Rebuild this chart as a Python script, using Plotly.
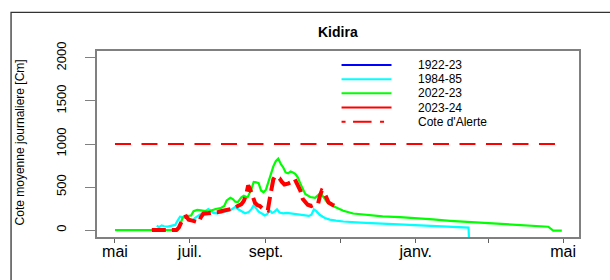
import pandas as pd
import plotly.graph_objects as go

# ---------------- data (day 0 = 1 May of the hydrological year) ----------------
BASE = pd.Timestamp("2022-05-01")

cyan_day = [34, 36, 38, 40, 43, 46, 49, 51, 53, 55, 57, 59, 61, 63, 65, 68, 71, 74, 76, 78,
            80, 83, 86, 89, 92, 95, 98, 100, 103, 106, 109, 111, 113, 115, 117, 120, 122, 124,
            126, 128, 130, 132, 134, 137, 140, 143, 147, 151, 155, 158, 160, 162, 164, 167,
            171, 175, 180, 186, 200, 220, 240, 260, 275, 288, 289]
cyan_val = [50, 35, 55, 45, 40, 50, 60, 110, 155, 150, 160, 140, 120, 110, 140, 170, 200, 230, 245, 225,
            200, 195, 200, 215, 220, 240, 270, 245, 215, 195, 210, 240, 290, 250, 215, 190, 170, 185,
            230, 200, 215, 240, 205, 195, 200, 195, 185, 175, 170, 165, 180, 240, 220, 175,
            140, 122, 110, 100, 88, 75, 62, 50, 38, 30, -300]

green_day = [0, 51, 53, 55, 57, 60, 62, 64, 67, 70, 73, 76, 79, 82, 86, 89, 91, 94, 96, 98,
             100, 103, 105, 108, 111, 113, 115, 117, 119, 121, 123, 125, 127, 129, 131, 133,
             135, 137, 139, 141, 143, 145, 147, 149, 151, 153, 155, 159, 163, 165, 167.5, 170,
             172.5, 178, 186, 194, 205, 218, 232, 246, 259, 273, 300, 327, 353, 357, 364]
green_val = [0, 0, 60, 140, 160, 165, 170, 220, 235, 230, 225, 215, 230, 245, 255, 280, 345, 375, 360, 330,
             325, 380, 400, 380, 470, 560, 555, 545, 460, 440, 470, 560, 650, 740, 800, 830,
             770, 730, 670, 660, 680, 670, 650, 610, 540, 480, 420, 385, 375, 400, 430, 380,
             330, 278, 224, 193, 174, 160, 150, 140, 124, 108, 85, 66, 39, -5, -5]

red_day = [30, 50, 52, 54, 56, 58, 60, 63, 66, 68, 70, 72, 76, 80, 84, 88, 92, 96, 100, 103,
           105, 107, 108.5, 110, 112, 114, 116, 118, 120, 122, 124.5, 126, 127.5, 129, 130.5,
           132, 134, 136, 138, 141, 144, 146.5, 149, 151, 153, 155, 157, 160, 163, 165.5,
           167, 168.5, 170, 172, 174, 177, 180, 183]
red_val = [0, 0, 30, 90, 150, 160, 120, 110, 100, 90, 150, 190, 195, 200, 210, 225, 235, 250, 280, 300,
           340, 420, 520, 480, 400, 320, 290, 280, 255, 245, 230, 360, 500, 590, 625,
           610, 600, 560, 530, 540, 560, 590, 530, 460, 360, 320, 295, 280, 290, 310,
           400, 460, 450, 380, 320, 295, 275, 255]

alert_day = [0, 365]
alert_val = [1000, 1000]

tick_dates = ["2022-05-01", "2022-07-01", "2022-09-01", "2022-11-01",
              "2023-01-01", "2023-03-01", "2023-05-01"]
tick_labels = ["mai", "juil.", "sept.", "", "janv.", "", "mai"]
y_ticks = [0, 500, 1000, 1500, 2000]

legend_names = ["1922-23", "1984-85", "2022-23", "2023-24", "Cote d'Alerte"]
legend_colors = ["#0000FF", "#00FFFF", "#00FF00", "#FF0000", "#FF0000"]

title_text = "Kidira"
y_title = "Cote moyenne journaliere [Cm]"

# ---------------- layout geometry (pixels) ----------------
W, H = 610, 280
PL, PR, PT, PB = 97, 579.3, 51, 237.3
FONT = "Liberation Sans, Arial, sans-serif"


def px_x(x):
    return (x - PL) / (PR - PL)


def px_y(y):
    return (PB - y) / (PB - PT)


def to_dates(days):
    return [BASE + pd.Timedelta(days=d) for d in days]


fig = go.Figure()
fig.add_trace(go.Scatter(x=to_dates(cyan_day), y=cyan_val, mode="lines",
                         line=dict(color=legend_colors[1], width=2.2), showlegend=False))
fig.add_trace(go.Scatter(x=to_dates(green_day), y=green_val, mode="lines",
                         line=dict(color=legend_colors[2], width=2.2), showlegend=False))
fig.add_trace(go.Scatter(x=to_dates(red_day), y=red_val, mode="lines",
                         line=dict(color=legend_colors[3], width=4, dash="14px,6px"),
                         showlegend=False))
fig.add_trace(go.Scatter(x=to_dates(alert_day), y=alert_val, mode="lines",
                         line=dict(color=legend_colors[4], width=2, dash="16px,10.5px"),
                         showlegend=False))

x_lo = BASE + pd.Timedelta(days=-14.65)
x_hi = BASE + pd.Timedelta(days=378.0)

axis_col = "#808080"
fig.update_layout(
    width=W, height=H, autosize=False,
    margin=dict(l=PL, r=W - PR, t=PT, b=H - PB, pad=0),
    paper_bgcolor="white", plot_bgcolor="white",
    font=dict(family=FONT, color="black"),
    xaxis=dict(type="date", range=[x_lo, x_hi], tickmode="array",
               tickvals=tick_dates, ticktext=tick_labels,
               ticks="outside", ticklen=4.5, tickwidth=1, tickcolor="#606060",
               showgrid=False, zeroline=False, showline=True, linecolor=axis_col,
               linewidth=1.5, mirror=True, tickfont=dict(size=16, family=FONT),
               ticklabelstandoff=-5),
    yaxis=dict(range=[-80, 2080], tickmode="array", tickvals=y_ticks,
               ticktext=[str(v) for v in y_ticks], tickangle=-90,
               ticks="outside", ticklen=10, tickwidth=1, tickcolor="#808080",
               showgrid=False, zeroline=False, showline=True, linecolor=axis_col,
               linewidth=1.5, mirror=True, tickfont=dict(size=13, family=FONT),
               ticklabelstandoff=14),
    showlegend=False,
)

# outer frame (extends past right/bottom edges)
fig.add_shape(type="rect", xref="paper", yref="paper",
              x0=px_x(11), x1=px_x(640), y0=px_y(300), y1=px_y(12.3),
              line=dict(color="#333333", width=1.3), fillcolor="rgba(0,0,0,0)", layer="below")

# title
fig.add_annotation(text="<b>" + title_text + "</b>", xref="paper", yref="paper",
                   x=0.5, y=px_y(31.7), xanchor="center", yanchor="middle",
                   showarrow=False, font=dict(size=14, family=FONT, color="black"))
# y-axis title
fig.add_annotation(text=y_title, xref="paper", yref="paper", textangle=-90,
                   x=px_x(20), y=px_y(142.5), xanchor="center", yanchor="middle",
                   showarrow=False, font=dict(size=12, family=FONT, color="black"))

# legend (manual, matching the R legend layout)
leg_y = [65.0, 79.2, 93.4, 107.6, 121.8]
for i, col in enumerate(legend_colors):
    yy = px_y(leg_y[i])
    dash = "solid" if i < 4 else "4px,7.5px,18.5px,8.5px,4px,20px"
    fig.add_shape(type="line", xref="paper", yref="paper",
                  x0=px_x(341.7), x1=px_x(391.7), y0=yy, y1=yy,
                  line=dict(color=col, width=2, dash=dash))
leg_text = "<br>".join('<span style="font-size:12px">' + n + "</span>" for n in legend_names)
fig.add_annotation(text=leg_text, xref="paper", yref="paper", x=px_x(416),
                   y=px_y((leg_y[0] + leg_y[-1]) / 2), xanchor="left", yanchor="middle",
                   align="left", showarrow=False,
                   font=dict(size=10.9, family=FONT, color="black"))

fig.write_html("out.html", config={"displayModeBar": False},
               post_script="document.body.style.margin='0px';")
